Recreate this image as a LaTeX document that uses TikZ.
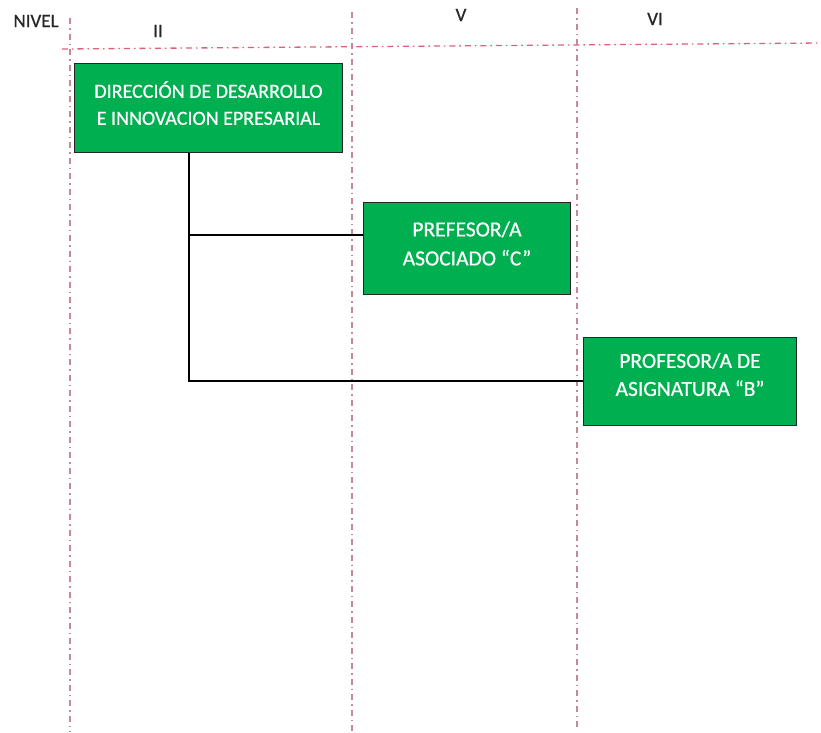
\documentclass[tikz,border=0pt]{standalone}
\usepackage{fontspec}
\setmainfont{Carlito}
\newfontfamily\medfont[FakeBold=0.6]{Carlito}
\usetikzlibrary{calc}
\definecolor{boxgreen}{HTML}{00B050}
\definecolor{gridred}{HTML}{E0607A}
\definecolor{gridpink}{HTML}{C48A94}
\tikzset{
  gridline/.style={line width=1.3pt, dash pattern=on 6pt off 4pt on 1.5pt off 4pt},
  unitbox/.style={draw=black!85, line width=1pt, fill=boxgreen, inner sep=0pt, anchor=north west},
  boxtext/.style={text=white, align=center, font=\medfont\fontsize{20}{27}\selectfont},
  nivel/.style={text=black!85, font=\medfont\fontsize{19}{22}\selectfont},
  conn/.style={line width=1.2pt, black}
}
\begin{document}
\begin{tikzpicture}[x=1pt, y=-1pt]
\useasboundingbox (0,0) rectangle (821,732);
\fill[white] (0,0) rectangle (821,732);

% level grid
\draw[gridline, gridred] (62,49) -- (821,43);
\draw[gridline, gridpink] (70,18) -- (70,732);
\draw[gridline, gridpink] (352,12) -- (352,732);
\draw[gridline, gridpink] (577,8) -- (577,728);

% level headings
\node[nivel] (nivel) at (36,21) {NIVEL};
\node[nivel] (lII) at (158,31) {II};
\node[nivel] (lV) at (461,15) {V};
\node[nivel] (lVI) at (655,19) {VI};

% positions
\node[unitbox, minimum width=268pt, minimum height=89pt,
  label={[boxtext, yshift=5pt]center:DIRECCIÓN DE DESARROLLO\\E INNOVACION EPRESARIAL}]
  (d1) at (74,63) {};
\node[unitbox, minimum width=207pt, minimum height=92pt,
  label={[boxtext, yshift=5pt, font=\medfont\fontsize{21.5}{29}\selectfont]center:PREFESOR/A\\ASOCIADO “C”}]
  (p2) at (363,202) {};
\node[unitbox, minimum width=213pt, minimum height=88pt,
  label={[boxtext, yshift=7pt, font=\medfont\fontsize{21.5}{28}\selectfont]center:PROFESOR/A DE\\ASIGNATURA “B”}]
  (p3) at (583,337) {};

% reporting lines
\coordinate (trunk) at (189,381);
\coordinate (b2) at (189,235);
\draw[conn] (trunk |- d1.south) -- (trunk) -- (trunk -| p3.west);
\draw[conn] (b2) -- (b2 -| p2.west);
\end{tikzpicture}
\end{document}
